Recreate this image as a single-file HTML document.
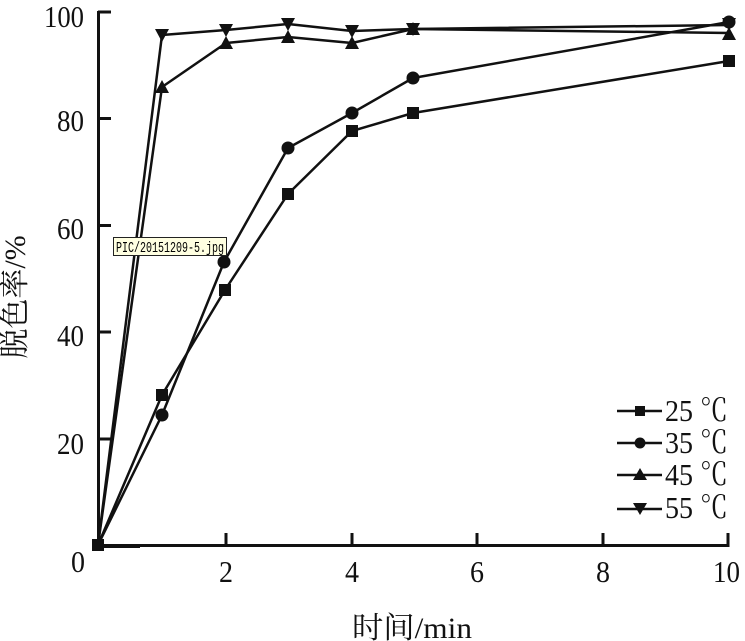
<!DOCTYPE html>
<html><head><meta charset="utf-8"><style>
html,body{margin:0;padding:0;background:#fff;}
svg{display:block;}
.t{font-family:"Liberation Serif","Noto Serif CJK SC",serif;font-size:31px;fill:#111;}
.lab{font-family:"Liberation Serif","Noto Serif CJK SC",serif;font-size:30px;fill:#111;}
.tip{font-family:"Liberation Mono","Noto Sans CJK SC",monospace;font-size:15px;fill:#000;}
</style></head><body>
<svg width="745" height="641" viewBox="0 0 745 641" xmlns="http://www.w3.org/2000/svg">
<rect width="745" height="641" fill="#fff"/>
<!-- axes -->
<g stroke="#111" stroke-width="3" fill="none">
<line x1="98.5" y1="11" x2="98.5" y2="546.5"/>
<line x1="97" y1="545.5" x2="729.5" y2="545.5"/>
<line x1="98" y1="547" x2="140" y2="547" stroke-width="2"/>
<line x1="98" y1="12" x2="111" y2="12"/>
<line x1="98" y1="118.5" x2="111" y2="118.5"/>
<line x1="98" y1="225.5" x2="111" y2="225.5"/>
<line x1="98" y1="332" x2="111" y2="332"/>
<line x1="98" y1="439" x2="111" y2="439"/>
<line x1="226" y1="545" x2="226" y2="533"/>
<line x1="352" y1="545" x2="352" y2="533"/>
<line x1="477" y1="545" x2="477" y2="533"/>
<line x1="603" y1="545" x2="603" y2="533"/>
<line x1="728" y1="545" x2="728" y2="533"/>
</g>
<!-- y tick labels -->
<g class="t">
<text x="44" y="27" textLength="40" lengthAdjust="spacingAndGlyphs">100</text>
<text x="57" y="131" textLength="27" lengthAdjust="spacingAndGlyphs">80</text>
<text x="57" y="239" textLength="27" lengthAdjust="spacingAndGlyphs">60</text>
<text x="57" y="346" textLength="27" lengthAdjust="spacingAndGlyphs">40</text>
<text x="57" y="454" textLength="27" lengthAdjust="spacingAndGlyphs">20</text>
<text x="71" y="572" textLength="14" lengthAdjust="spacingAndGlyphs">0</text>
</g>
<!-- x tick labels -->
<g class="t">
<text x="219" y="582" textLength="14" lengthAdjust="spacingAndGlyphs">2</text>
<text x="345" y="582" textLength="14" lengthAdjust="spacingAndGlyphs">4</text>
<text x="470" y="582" textLength="14" lengthAdjust="spacingAndGlyphs">6</text>
<text x="596" y="582" textLength="14" lengthAdjust="spacingAndGlyphs">8</text>
<text x="713" y="582" textLength="27" lengthAdjust="spacingAndGlyphs">10</text>
</g>
<text class="lab" x="352" y="638" textLength="120" lengthAdjust="spacingAndGlyphs">时间/min</text>
<text class="lab" transform="translate(25,297) rotate(-90)" text-anchor="middle">脱色率/%</text>

<!-- series lines -->
<g stroke="#111" stroke-width="2.5" fill="none" stroke-linejoin="round">
<polyline points="98,545 162,395 225,290 288,194 352,131 413,113 729,61"/>
<polyline points="98,545 162,415 224,262 288,148 352,113 413,78 729,22"/>
<polyline points="98,545 162,87 226,43 288,37 352,43 413,29 729,33"/>
<polyline points="98,545 162,35 226,30 288,24 352,31 413,29 729,25"/>
</g>
<!-- markers -->
<g fill="#111">
<rect x="92" y="539" width="12" height="12"/>
<rect x="156" y="389" width="12" height="12"/>
<rect x="219" y="284" width="12" height="12"/>
<rect x="282" y="188" width="12" height="12"/>
<rect x="346" y="125" width="12" height="12"/>
<rect x="407" y="107" width="12" height="12"/>
<rect x="723" y="55" width="12" height="12"/>
<circle cx="162" cy="415" r="6.5"/>
<circle cx="224" cy="262" r="6.5"/>
<circle cx="288" cy="148" r="6.5"/>
<circle cx="352" cy="113" r="6.5"/>
<circle cx="413" cy="78" r="6.5"/>
<circle cx="729" cy="22" r="6.5"/>
<polygon points="162,80 169,93 155,93"/>
<polygon points="226,36 233,49 219,49"/>
<polygon points="288,30 295,43 281,43"/>
<polygon points="352,36 359,49 345,49"/>
<polygon points="413,22 420,35 406,35"/>
<polygon points="729,27 736,40 722,40"/>
<polygon points="155,29 169,29 162,42"/>
<polygon points="219,24 233,24 226,37"/>
<polygon points="281,18 295,18 288,31"/>
<polygon points="345,25 359,25 352,38"/>
<polygon points="406,23 420,23 413,36"/>
<polygon points="722,18 736,18 729,31"/>
</g>

<!-- tooltip -->
<rect x="113.5" y="237.5" width="113" height="18" fill="#ffffe1" stroke="#222" stroke-width="1"/>
<text class="tip" x="116" y="252" textLength="108" lengthAdjust="spacingAndGlyphs">PIC/20151209-5.jpg</text>

<!-- legend -->
<g stroke="#111" stroke-width="2.5">
<line x1="617" y1="411" x2="662" y2="411"/>
<line x1="617" y1="443" x2="662" y2="443"/>
<line x1="617" y1="475" x2="662" y2="475"/>
<line x1="617" y1="509" x2="662" y2="509"/>
</g>
<g fill="#111">
<rect x="635" y="406" width="10" height="10"/>
<circle cx="640" cy="443" r="5.5"/>
<polygon points="640,468 647,480 633,480"/>
<polygon points="633,503 647,503 640,515"/>
</g>
<g class="t">
<text x="665" y="421" textLength="63" lengthAdjust="spacingAndGlyphs">25 ℃</text>
<text x="665" y="453" textLength="63" lengthAdjust="spacingAndGlyphs">35 ℃</text>
<text x="665" y="485" textLength="63" lengthAdjust="spacingAndGlyphs">45 ℃</text>
<text x="665" y="518" textLength="63" lengthAdjust="spacingAndGlyphs">55 ℃</text>
</g>
</svg>
</body></html>
